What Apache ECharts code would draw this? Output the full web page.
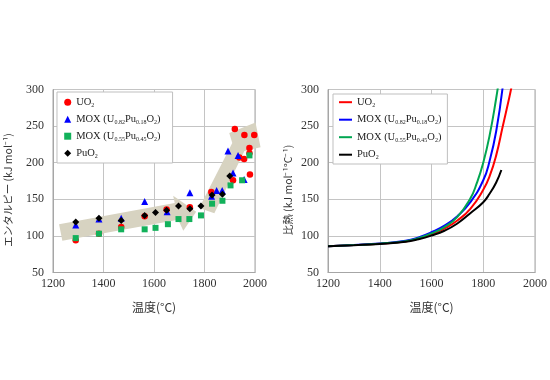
<!DOCTYPE html>
<html>
<head>
<meta charset="utf-8">
<script src="https://cdn.jsdelivr.net/npm/echarts@6/dist/echarts.min.js"></script>
<style>
html,body{margin:0;padding:0;background:#fff;}
#c{width:550px;height:380px;}
</style>
</head>
<body>
<div id="c"></div>
<script>
// ---- Left chart: enthalpy data points [temperature °C, kJ/mol] ----
const uo2Enthalpy = [[1290,94],[1382,103],[1470,112],[1563,127],[1650,136],[1742,139],[1827,160],[1913,176],[1920,246],[1938,207],[1957,205],[1958,238],[1978,213],[1978,220],[1980,184],[1997,238]];
const mox82Enthalpy = [[1290,115],[1382,123],[1470,124],[1563,147],[1652,133],[1742,159],[1828,154],[1848,162],[1870,162],[1893,216],[1913,186],[1933,210],[1957,177]];
const mox55Enthalpy = [[1290,97],[1382,103],[1470,109],[1563,109],[1606,111],[1655,116],[1697,123],[1740,123],[1786,128],[1830,144],[1871,148],[1903,169],[1949,176],[1978,210]];
const puo2Enthalpy = [[1290,119],[1382,124],[1470,121],[1563,128],[1606,132],[1650,135],[1697,141],[1742,137],[1786,141],[1830,156],[1871,157],[1900,182]];

// trend arrows (vertices in data coordinates)
const arrowLow = [[1224,116],[1682,145],[1676,155],[1767,133],[1716,107],[1696,122],[1237,93.5]];
const arrowHigh = [[1779,138],[1910,227],[1898,240.5],[2002,255],[2022,221],[1958,216],[1839,131]];

// ---- Right chart: specific heat curves [temperature °C, kJ/mol/°C] ----
const uo2Cp = [[1200,86],[1300,87.5],[1400,89.3],[1500,92.5],[1550,96.5],[1600,102],[1650,110],[1700,121],[1750,137],[1800,163],[1825,182],[1850,210],[1875,249],[1900,288],[1910,305]];
const mox82Cp = [[1200,86],[1300,87.6],[1400,89.6],[1500,93.3],[1550,98],[1600,105],[1650,114],[1700,127],[1750,146],[1800,176],[1825,203],[1850,243],[1875,303]];
const mox55Cp = [[1200,86],[1300,87.5],[1400,89.4],[1500,92.8],[1550,97],[1600,103.5],[1650,112],[1700,126],[1750,151],[1775,172],[1800,200],[1825,238],[1850,288],[1860,312]];
const puo2Cp = [[1200,86],[1300,87.3],[1400,89],[1500,92],[1550,95.5],[1600,100.5],[1650,107],[1700,117],[1750,131],[1800,146],[1825,158],[1850,173],[1870,190]];

// ---- labels ----
const names = ['UO2','MOX (U0.82Pu0.18O2)','MOX (U0.55Pu0.45O2)','PuO2'];
const richNames = {
  'UO2': '{n|UO}{s|2}',
  'MOX (U0.82Pu0.18O2)': '{n|MOX (U}{s|0.82}{n|Pu}{s|0.18}{n|O}{s|2}{n|)}',
  'MOX (U0.55Pu0.45O2)': '{n|MOX (U}{s|0.55}{n|Pu}{s|0.45}{n|O}{s|2}{n|)}',
  'PuO2': '{n|PuO}{s|2}'
};
const xTitle = '温度(°C)';
const yTitleLeft = 'エンタルピー (kJ mol⁻¹)';
const yTitleRight = '比熱 (kJ mol⁻¹°C⁻¹)';

const serif = 'Liberation Serif';
const jp = 'Noto Sans CJK JP';
const colors = ['#ff0000','#0000ff','#12b15a','#000000'];
const lineColors = ['#ff0000','#0000ff','#00a651','#000000'];

const legendText = {
  fontFamily: serif, fontSize: 10.5, color: '#222',
  rich: {
    n: {fontFamily: serif, fontSize: 10.5, color: '#222', lineHeight: 12},
    s: {fontFamily: serif, fontSize: 6, color: '#222', verticalAlign: 'bottom', lineHeight: 12, padding: [5,0,0,0]}
  }
};

function xAxis(i){
  return {
    gridIndex: i, type: 'value', min: 1200, max: 2000, interval: 200,
    name: xTitle, nameLocation: 'middle', nameGap: 29,
    nameTextStyle: {fontFamily: jp, fontSize: 12, color: '#333'},
    axisLine: {show: true, lineStyle: {color: '#a6a6a6'}},
    axisTick: {show: false},
    axisLabel: {fontFamily: serif, fontSize: 12, color: '#333', margin: 5, formatter: v => String(v)},
    splitLine: {show: true, lineStyle: {color: '#c4c4c4'}}
  };
}
function yAxis(i, name, gap){
  return {
    gridIndex: i, type: 'value', min: 50, max: 300, interval: 50,
    name: name, nameLocation: 'middle', nameGap: gap,
    nameTextStyle: {fontFamily: jp, fontSize: 10.5, color: '#333', padding: [0, 18, 0, 0]},
    axisLine: {show: true, lineStyle: {color: '#a6a6a6'}},
    axisTick: {show: false},
    axisLabel: {fontFamily: serif, fontSize: 12, color: '#333', margin: 9, formatter: v => String(v)},
    splitLine: {show: true, lineStyle: {color: '#c4c4c4'}}
  };
}

const enthalpySets = [uo2Enthalpy, mox82Enthalpy, mox55Enthalpy, puo2Enthalpy];
const symbols = ['circle','triangle','rect','diamond'];
const sizes = [6.5, 7, 6, 7];
const cpSets = [uo2Cp, mox82Cp, mox55Cp, puo2Cp];
const arrows = [arrowLow, arrowHigh];

const series = [];
series.push({
  type: 'custom', xAxisIndex: 0, yAxisIndex: 0, silent: true, clip: false, z: 1,
  data: arrows.map(a => a[0]),
  renderItem: function(params, api){
    const pts = arrows[params.dataIndex].map(p => api.coord(p));
    return {type: 'polygon', shape: {points: pts}, style: {fill: '#d7d3c1'}};
  }
});
enthalpySets.forEach((d, i) => {
  series.push({
    name: names[i], type: 'scatter', xAxisIndex: 0, yAxisIndex: 0, z: 3,
    symbol: symbols[i], symbolSize: sizes[i], data: d,
    itemStyle: {color: colors[i], opacity: 1}
  });
});
cpSets.forEach((d, i) => {
  series.push({
    name: names[i] + ' ', type: 'line', xAxisIndex: 1, yAxisIndex: 1,
    data: d, smooth: true, symbol: 'none', showSymbol: false,
    lineStyle: {color: lineColors[i], width: 2}, itemStyle: {color: lineColors[i]}
  });
});

const chart = echarts.init(document.getElementById('c'), null, {renderer: 'canvas'});
chart.setOption({
  animation: false,
  backgroundColor: '#fff',
  grid: [
    {left: 53, top: 89.5, width: 202, height: 183, show: true, borderColor: '#a6a6a6', borderWidth: 1, backgroundColor: 'transparent'},
    {left: 328, top: 89.5, width: 210, height: 183, show: true, borderColor: '#a6a6a6', borderWidth: 1, backgroundColor: 'transparent'}
  ],
  xAxis: [xAxis(0), xAxis(1)],
  yAxis: [yAxis(0, yTitleLeft, 40), yAxis(1, yTitleRight, 35)],
  legend: [
    {
      left: 57, top: 92, orient: 'vertical', itemWidth: 7, itemHeight: 7, itemGap: 5.5,
      padding: [4.7, 12, 3.8, 7.2], backgroundColor: '#fff', borderColor: '#bfbfbf', borderWidth: 1,
      textStyle: legendText, data: names,
      formatter: n => richNames[n.trim()]
    },
    {
      left: 333, top: 94, orient: 'vertical', itemWidth: 13, itemHeight: 2, itemGap: 6,
      icon: 'rect',
      padding: [2.7, 6, 3.3, 6], backgroundColor: '#fff', borderColor: '#bfbfbf', borderWidth: 1,
      textStyle: legendText, data: names.map(n => n + ' '),
      formatter: n => richNames[n.trim()]
    }
  ],
  series: series
});
</script>
</body>
</html>
